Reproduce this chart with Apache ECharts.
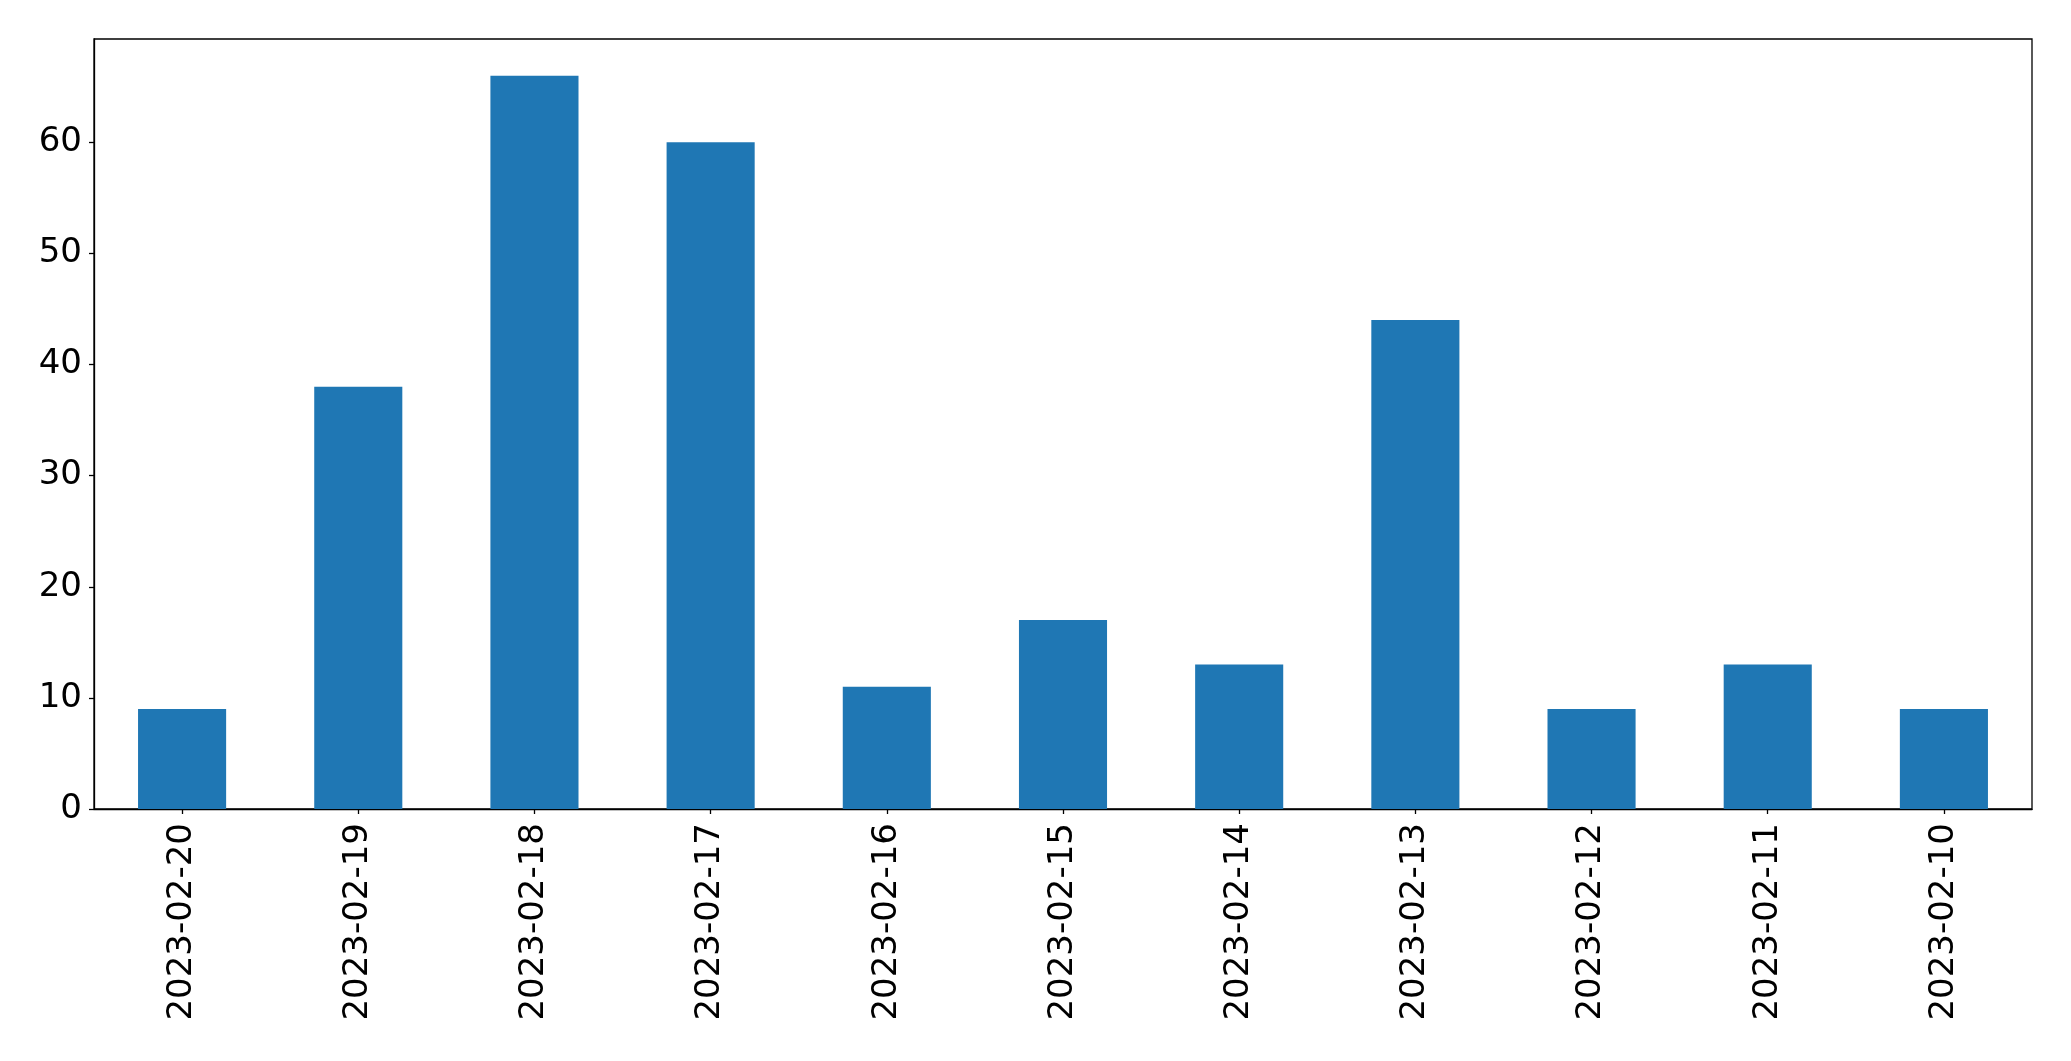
<!DOCTYPE html>
<html><head><meta charset="utf-8">
<script src="https://cdn.jsdelivr.net/npm/echarts@6/dist/echarts.min.js"></script>
<style>html,body{margin:0;padding:0;background:#fff}#c{width:2071px;height:1061px}</style>
</head><body><div id="c"></div>
<script>
const categories = ["2023-02-20","2023-02-19","2023-02-18","2023-02-17","2023-02-16","2023-02-15","2023-02-14","2023-02-13","2023-02-12","2023-02-11","2023-02-10"];
const values = [9, 38, 66, 60, 11, 17, 13, 44, 9, 13, 9];
const yTicks = [0, 10, 20, 30, 40, 50, 60];
const font = "DejaVu Sans";
const chart = echarts.init(document.getElementById('c'));
chart.setOption({
  animation: false,
  backgroundColor: '#fff',
  grid: {left: 94, top: 39, width: 1938, height: 770, show: true, borderColor: '#000', borderWidth: 1.3, backgroundColor: 'transparent'},
  xAxis: {
    type: 'category', data: categories,
    axisLine: {show: true, lineStyle: {color: '#000', width: 1.3}},
    axisTick: {show: true, alignWithLabel: true, length: 5, lineStyle: {color: '#000', width: 1.3}},
    axisLabel: {rotate: 90, fontSize: 34, fontFamily: font, color: '#000', margin: 14, interval: 0}
  },
  yAxis: {
    type: 'value', min: 0, max: 69.3, interval: 10,
    axisLine: {show: true, lineStyle: {color: '#000', width: 1.3}},
    axisTick: {show: true, length: 5, lineStyle: {color: '#000', width: 1.3}},
    splitLine: {show: false},
    axisLabel: {fontSize: 34, fontFamily: font, color: '#000', margin: 12, showMaxLabel: false,
      formatter: v => yTicks.includes(v) ? String(v) : ''}
  },
  series: [{type: 'bar', data: values, barWidth: '50%', itemStyle: {color: '#1f77b4'}}]
});
</script></body></html>
